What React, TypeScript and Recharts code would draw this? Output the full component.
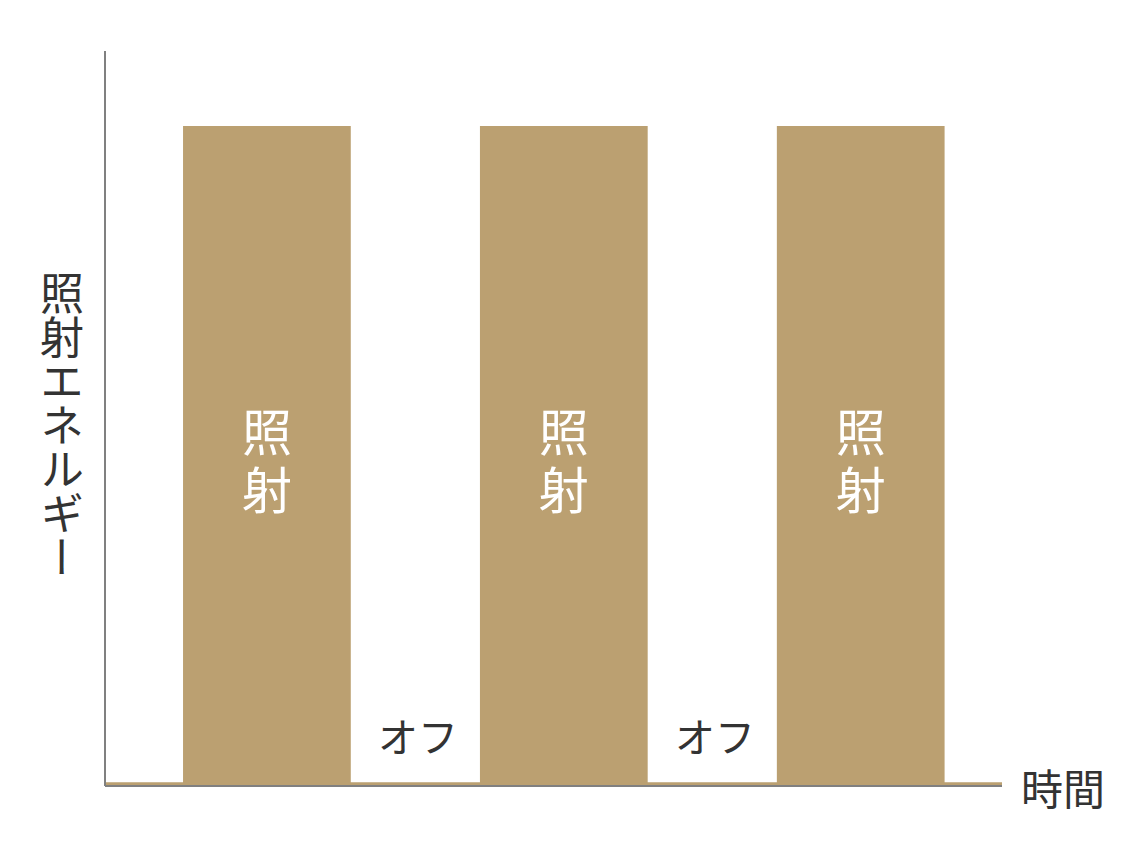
import React from 'react';
import { ComposedChart, Area, Scatter, XAxis, YAxis } from 'recharts';

// time points (arbitrary units, 0..100) and irradiation energy level (0..100)
const timePoints = [0, 8.7, 27.4, 41.8, 60.5, 74.9, 93.6, 100];
const energyLevels = [0.5, 89.8, 0.5, 89.8, 0.5, 89.8, 0.5, 0.5];

const labelTimes = [18.05, 34.9, 51.15, 68.0, 84.25];
const labelLevels = [44.6, 6.9, 44.6, 6.9, 44.6];
const labelTexts = ['照射', 'オフ', '照射', 'オフ', '照射'];

const xAxisTitle = '時間';
const yAxisTitle = '照射エネルギー';

const TAN = '#BBA071';
const TEXT = '#333333';
const AXIS = '#808080';
const FONT = '"Noto Sans CJK JP", "Noto Sans", sans-serif';

const areaData = timePoints.map((t, i) => ({ t, e: energyLevels[i] }));
const labelData = labelTimes.map((t, i) => ({ t, y: labelLevels[i], text: labelTexts[i] }));

const LabelShape = (props: any) => {
  const { cx, cy, payload } = props;
  const text: string = payload.text;
  if (text === '照射') {
    return (
      <g>
        <text x={cx} y={cy - 29} textAnchor="middle" dominantBaseline="central" fill="#ffffff" fontSize={50} fontFamily={FONT}>照</text>
        <text x={cx} y={cy + 29} textAnchor="middle" dominantBaseline="central" fill="#ffffff" fontSize={50} fontFamily={FONT}>射</text>
      </g>
    );
  }
  return (
    <text
      x={cx}
      y={cy}
      textAnchor="middle"
      dominantBaseline="central"
      fill={TEXT}
      fontSize={40}
      fontFamily={FONT}
    >
      {text}
    </text>
  );
};

const XTitle = (props: any) => {
  const vb = props.viewBox || {};
  return (
    <text
      x={vb.x + vb.width + 61}
      y={vb.y}
      textAnchor="middle"
      dominantBaseline="central"
      fill={TEXT}
      fontSize={42}
      fontFamily={FONT}
    >
      {xAxisTitle}
    </text>
  );
};

const YTitle = (props: any) => {
  const vb = props.viewBox || {};
  const cx = vb.x - 42;
  const cy = vb.y + vb.height / 2 + 7;
  return (
    <text
      x={cx}
      y={cy}
      textAnchor="middle"
      fill={TEXT}
      fontSize={44}
      fontFamily={FONT}
      style={{ writingMode: 'vertical-rl' as any }}
    >
      {yAxisTitle}
    </text>
  );
};

export default function App() {
  return (
    <div style={{ width: 1144, height: 858 }}>
      <ComposedChart
        width={1144}
        height={858}
        margin={{ top: 43, right: 150, bottom: 79, left: 96 }}
      >
        <XAxis
          type="number"
          dataKey="t"
          domain={[0, 100]}
          ticks={[0, 100]}
          tick={false}
          tickLine={false}
          height={1}
          axisLine={{ stroke: AXIS, strokeWidth: 2 }}
          label={<XTitle />}
          allowDataOverflow
        />
        <YAxis
          type="number"
          domain={[0, 100]}
          ticks={[0, 100]}
          tick={false}
          tickLine={false}
          width={1}
          axisLine={{ stroke: AXIS, strokeWidth: 2 }}
          label={<YTitle />}
          allowDataOverflow
        />
        <Area
          data={areaData}
          dataKey="e"
          type="stepAfter"
          fill={TAN}
          fillOpacity={1}
          stroke="none"
          isAnimationActive={false}
          dot={false}
          activeDot={false}
        />
        <Scatter
          data={labelData}
          dataKey="y"
          shape={<LabelShape />}
          isAnimationActive={false}
        />
      </ComposedChart>
    </div>
  );
}
